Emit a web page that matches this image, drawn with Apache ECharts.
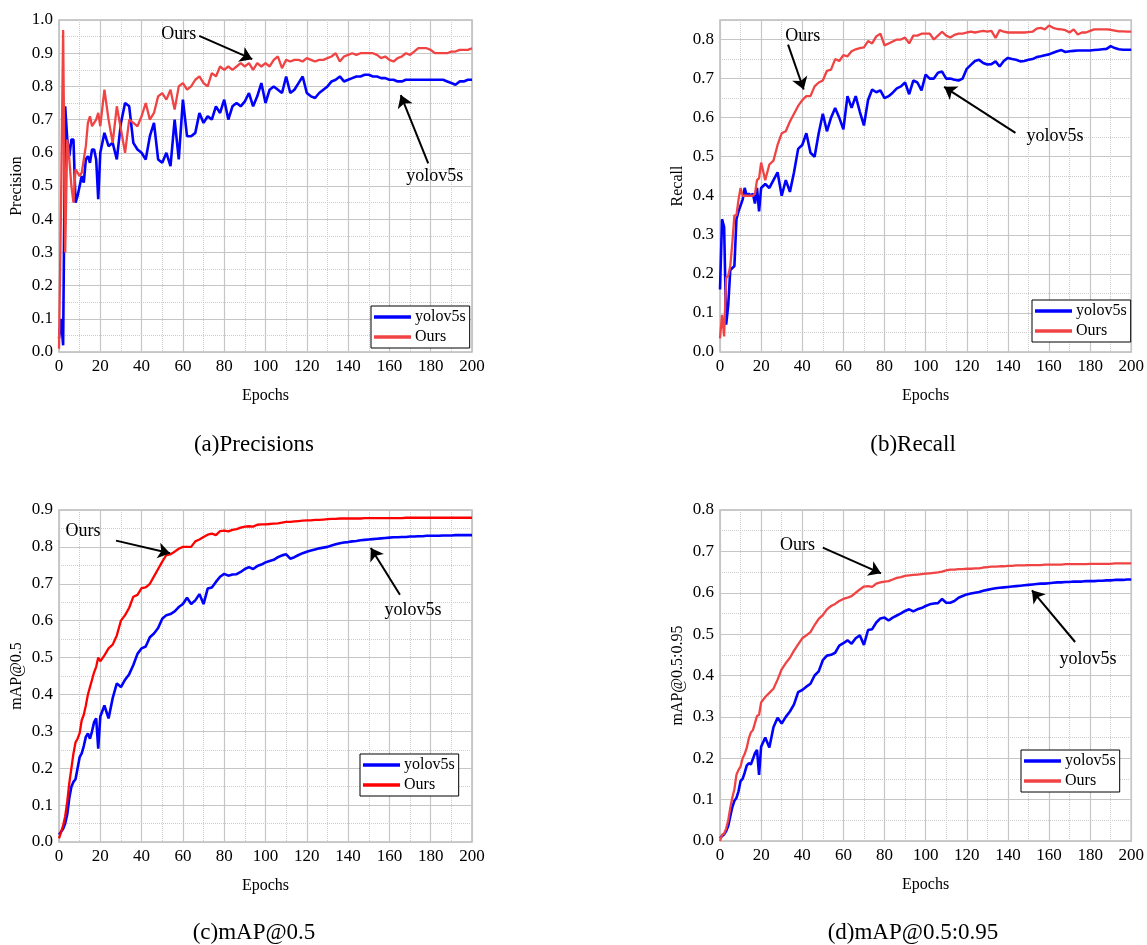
<!DOCTYPE html>
<html>
<head>
<meta charset="utf-8">
<script src="https://cdn.jsdelivr.net/npm/echarts@6.0.0/dist/echarts.min.js"></script>
<style>
  html, body { margin: 0; background: #fff; }
  #chart { width: 1147px; height: 945px; }
</style>
</head>
<body>
<div id="chart"></div>
<script>
// epochs: every epoch up to 20, then every second epoch
const epochs = [
  0,1,2,3,4,5,6,7,8,9,10,11,12,13,14,15,16,17,18,19,20,
  22,24,26,28,30,32,34,36,38,40,42,44,46,48,50,52,54,56,58,60,
  62,64,66,68,70,72,74,76,78,80,82,84,86,88,90,92,94,96,98,100,
  102,104,106,108,110,112,114,116,118,120,122,124,126,128,130,132,134,136,138,140,
  142,144,146,148,150,152,154,156,158,160,162,164,166,168,170,172,174,176,178,180,
  182,184,186,188,190,192,194,196,198,200
];

const precYolo = [
  0.04,0.10,0.02,0.74,0.64,0.59,0.64,0.64,0.45,0.47,0.50,0.53,0.51,0.58,0.59,0.57,0.61,0.61,0.58,0.46,0.60,
  0.66,0.62,0.63,0.58,0.69,0.75,0.74,0.63,0.61,0.60,0.58,0.65,0.69,0.58,0.57,0.60,0.56,0.70,0.58,0.76,
  0.65,0.65,0.66,0.72,0.69,0.71,0.70,0.74,0.72,0.76,0.70,0.74,0.75,0.74,0.755,0.78,0.74,0.77,0.81,0.75,
  0.79,0.80,0.79,0.78,0.83,0.78,0.79,0.81,0.83,0.78,0.77,0.765,0.78,0.79,0.80,0.815,0.82,0.83,0.815,0.82,
  0.825,0.83,0.83,0.835,0.835,0.83,0.83,0.825,0.825,0.82,0.82,0.815,0.815,0.82,0.82,0.82,0.82,0.82,0.82,0.82,
  0.82,0.82,0.82,0.815,0.81,0.805,0.815,0.815,0.82,0.82
];
const precOurs = [
  0.01,0.45,0.97,0.30,0.64,0.58,0.50,0.45,0.55,0.54,0.53,0.54,0.58,0.62,0.69,0.71,0.68,0.69,0.70,0.72,0.68,
  0.79,0.70,0.63,0.74,0.67,0.60,0.70,0.69,0.68,0.71,0.75,0.70,0.72,0.77,0.78,0.76,0.79,0.73,0.80,0.81,
  0.79,0.80,0.82,0.83,0.81,0.80,0.84,0.83,0.86,0.85,0.86,0.85,0.86,0.87,0.86,0.87,0.85,0.87,0.86,0.87,
  0.86,0.88,0.89,0.855,0.88,0.875,0.88,0.88,0.875,0.885,0.88,0.875,0.88,0.88,0.885,0.89,0.90,0.875,0.89,0.895,
  0.90,0.895,0.90,0.90,0.90,0.90,0.895,0.885,0.89,0.88,0.875,0.885,0.89,0.90,0.895,0.905,0.915,0.915,0.915,0.91,
  0.90,0.90,0.90,0.90,0.905,0.905,0.91,0.91,0.91,0.915
];

const recYolo = [
  0.16,0.34,0.32,0.07,0.12,0.21,0.215,0.22,0.34,0.36,0.375,0.39,0.42,0.40,0.405,0.40,0.405,0.38,0.42,0.36,0.42,
  0.43,0.42,0.44,0.46,0.40,0.44,0.41,0.46,0.52,0.53,0.56,0.51,0.50,0.56,0.61,0.565,0.60,0.625,0.60,0.57,
  0.655,0.625,0.655,0.615,0.58,0.645,0.672,0.665,0.67,0.65,0.655,0.664,0.675,0.68,0.69,0.66,0.695,0.69,0.67,0.71,
  0.70,0.70,0.715,0.718,0.70,0.70,0.697,0.695,0.70,0.725,0.735,0.745,0.748,0.74,0.736,0.737,0.744,0.731,0.745,0.753,
  0.75,0.748,0.744,0.745,0.748,0.75,0.755,0.757,0.76,0.762,0.766,0.77,0.773,0.768,0.77,0.771,0.772,0.772,0.772,0.772,
  0.773,0.774,0.775,0.776,0.783,0.778,0.775,0.774,0.774,0.774
];
const recOurs = [
  0.035,0.095,0.04,0.19,0.195,0.22,0.28,0.35,0.35,0.39,0.42,0.40,0.40,0.40,0.40,0.40,0.40,0.405,0.44,0.445,0.485,
  0.44,0.48,0.49,0.53,0.56,0.565,0.59,0.61,0.63,0.645,0.655,0.655,0.68,0.69,0.695,0.72,0.723,0.75,0.745,0.76,
  0.757,0.77,0.775,0.778,0.78,0.796,0.79,0.808,0.815,0.785,0.79,0.795,0.80,0.80,0.805,0.79,0.81,0.81,0.815,0.815,
  0.815,0.80,0.81,0.82,0.81,0.805,0.812,0.815,0.815,0.818,0.82,0.818,0.82,0.822,0.82,0.822,0.804,0.824,0.82,0.818,
  0.818,0.818,0.818,0.818,0.819,0.82,0.828,0.83,0.826,0.836,0.83,0.827,0.826,0.824,0.818,0.826,0.813,0.818,0.818,0.822,
  0.826,0.826,0.826,0.826,0.825,0.823,0.821,0.821,0.82,0.82
];

const map50Yolo = [
  0.02,0.028,0.036,0.05,0.075,0.12,0.15,0.163,0.17,0.20,0.23,0.24,0.26,0.285,0.294,0.28,0.30,0.325,0.335,0.253,0.34,
  0.37,0.335,0.39,0.43,0.42,0.44,0.455,0.48,0.51,0.525,0.53,0.555,0.565,0.58,0.605,0.615,0.618,0.625,0.637,0.645,
  0.662,0.645,0.655,0.672,0.645,0.687,0.69,0.705,0.719,0.727,0.722,0.725,0.726,0.732,0.74,0.745,0.74,0.748,0.752,0.758,
  0.762,0.765,0.772,0.777,0.78,0.768,0.772,0.778,0.783,0.787,0.79,0.793,0.796,0.798,0.80,0.804,0.807,0.81,0.812,0.813,
  0.815,0.816,0.818,0.819,0.82,0.821,0.822,0.823,0.824,0.825,0.826,0.826,0.827,0.827,0.828,0.828,0.829,0.829,0.83,0.83,
  0.83,0.83,0.831,0.831,0.831,0.832,0.832,0.832,0.832,0.832
];
const map50Ours = [
  0.01,0.027,0.045,0.07,0.11,0.16,0.20,0.24,0.27,0.28,0.295,0.33,0.345,0.37,0.40,0.42,0.44,0.46,0.475,0.50,0.49,
  0.506,0.525,0.535,0.56,0.60,0.615,0.635,0.665,0.67,0.688,0.69,0.70,0.72,0.74,0.76,0.778,0.78,0.787,0.795,0.80,
  0.80,0.80,0.815,0.82,0.827,0.833,0.836,0.832,0.843,0.844,0.842,0.846,0.848,0.852,0.855,0.856,0.855,0.86,0.861,0.861,
  0.862,0.863,0.864,0.866,0.868,0.868,0.869,0.87,0.871,0.872,0.872,0.873,0.873,0.874,0.875,0.876,0.876,0.877,0.877,0.877,
  0.877,0.877,0.877,0.878,0.878,0.878,0.878,0.878,0.878,0.878,0.878,0.878,0.878,0.879,0.879,0.879,0.879,0.879,0.879,0.879,
  0.879,0.879,0.879,0.879,0.879,0.879,0.879,0.879,0.879,0.879
];

const map5095Yolo = [
  0.007,0.012,0.016,0.024,0.036,0.06,0.082,0.097,0.104,0.12,0.145,0.15,0.165,0.182,0.188,0.185,0.198,0.212,0.22,0.16,0.228,
  0.25,0.226,0.275,0.298,0.284,0.30,0.313,0.33,0.36,0.365,0.373,0.38,0.40,0.41,0.437,0.448,0.45,0.455,0.472,0.478,
  0.485,0.477,0.49,0.497,0.474,0.51,0.512,0.528,0.538,0.54,0.533,0.54,0.545,0.55,0.556,0.56,0.555,0.56,0.563,0.568,
  0.572,0.574,0.575,0.585,0.576,0.576,0.58,0.588,0.592,0.596,0.598,0.60,0.602,0.605,0.607,0.609,0.611,0.612,0.613,0.614,
  0.615,0.616,0.617,0.618,0.619,0.62,0.621,0.622,0.622,0.623,0.624,0.625,0.625,0.626,0.626,0.627,0.627,0.627,0.628,0.628,
  0.628,0.629,0.629,0.63,0.63,0.631,0.631,0.631,0.632,0.632
];
const map5095Ours = [
  0.0,0.015,0.018,0.03,0.05,0.08,0.105,0.125,0.16,0.172,0.18,0.20,0.21,0.225,0.248,0.262,0.268,0.285,0.302,0.305,0.335,
  0.348,0.358,0.368,0.39,0.415,0.43,0.443,0.46,0.475,0.49,0.497,0.505,0.522,0.537,0.546,0.56,0.568,0.573,0.58,0.585,
  0.588,0.592,0.60,0.608,0.615,0.616,0.614,0.622,0.625,0.627,0.628,0.632,0.636,0.638,0.641,0.642,0.643,0.644,0.645,0.646,
  0.647,0.648,0.649,0.651,0.654,0.656,0.656,0.657,0.657,0.658,0.658,0.659,0.659,0.661,0.662,0.663,0.663,0.664,0.664,0.665,
  0.665,0.666,0.666,0.666,0.667,0.667,0.667,0.667,0.668,0.668,0.668,0.668,0.668,0.669,0.669,0.669,0.669,0.669,0.669,0.67,
  0.67,0.67,0.67,0.67,0.67,0.671,0.671,0.671,0.671,0.671
];

const FONT = 'Liberation Serif';
const BLUE = '#0000ff';
const RED_SOFT = '#f04343';
const RED = '#ff0000';

const panels = [
  {
    yName: 'Precision', caption: '(a)Precisions', yMax: 1.0, yolo: precYolo, ours: precOurs, red: RED_SOFT,
    grid: { left: 59, top: 20, width: 413, height: 332 }, legendPos: { left: 371, top: 306 }, capPos: [254, 445],
    notes: [
      { text: 'Ours', at: [58, 0.958], from: [67.9, 0.952], to: [93.6, 0.882] },
      { text: 'yolov5s', at: [182, 0.528], from: [178.8, 0.568], to: [165.5, 0.774] }
    ]
  },
  {
    yName: 'Recall', caption: '(b)Recall', yMax: 0.85, yolo: recYolo, ours: recOurs, red: RED_SOFT,
    grid: { left: 720, top: 20, width: 413, height: 332 }, legendPos: { left: 1032, top: 300 }, capPos: [913, 445],
    notes: [
      { text: 'Ours', at: [40.3, 0.808], from: [33.1, 0.787], to: [40.7, 0.672] },
      { text: 'yolov5s', at: [162.9, 0.552], from: [143.7, 0.561], to: [109, 0.679] }
    ]
  },
  {
    yName: 'mAP@0.5', caption: '(c)mAP@0.5', yMax: 0.9, yolo: map50Yolo, ours: map50Ours, red: RED,
    grid: { left: 59, top: 510, width: 413, height: 332 }, legendPos: { left: 360, top: 754 }, capPos: [254, 933],
    notes: [
      { text: 'Ours', at: [11.6, 0.841], from: [27.6, 0.817], to: [53.8, 0.783] },
      { text: 'yolov5s', at: [171.4, 0.627], from: [165.1, 0.67], to: [151, 0.797] }
    ]
  },
  {
    yName: 'mAP@0.5:0.95', caption: '(d)mAP@0.5:0.95', yMax: 0.8, yolo: map5095Yolo, ours: map5095Ours, red: RED_SOFT,
    grid: { left: 720, top: 510, width: 413, height: 331 }, legendPos: { left: 1021, top: 750 }, capPos: [913, 933],
    notes: [
      { text: 'Ours', at: [37.7, 0.714], from: [50, 0.709], to: [78.3, 0.647] },
      { text: 'yolov5s', at: [179, 0.44], from: [172.7, 0.481], to: [151.7, 0.606] }
    ]
  }
];

const gridLine = { color: '#c6c6c6', width: 1.2 };
const minorLine = { color: '#cdcdcd', width: 1, type: 'dotted' };
const labelStyle = { fontFamily: FONT, fontSize: 17, color: '#000' };

const option = {
  backgroundColor: '#fff',
  animation: false,
  textStyle: { fontFamily: FONT },
  grid: [], xAxis: [], yAxis: [], legend: [], series: [], graphic: []
};

panels.forEach((p, i) => {
  option.grid.push(Object.assign({ show: true, borderColor: '#bababa', borderWidth: 1.5 }, p.grid));

  option.xAxis.push({
    gridIndex: i, type: 'value', min: 0, max: 200, interval: 20,
    name: 'Epochs', nameLocation: 'middle', nameGap: 36,
    nameTextStyle: { fontFamily: FONT, fontSize: 16, color: '#000' },
    axisLine: { show: false }, axisTick: { show: false },
    axisLabel: Object.assign({ margin: 6 }, labelStyle),
    splitLine: { show: true, lineStyle: gridLine },
    minorTick: { show: false, splitNumber: 2 },
    minorSplitLine: { show: true, lineStyle: minorLine }
  });

  option.yAxis.push({
    gridIndex: i, type: 'value', min: 0, max: p.yMax, interval: 0.1,
    name: p.yName, nameLocation: 'middle', nameGap: 34,
    nameTextStyle: { fontFamily: FONT, fontSize: 16, color: '#000' },
    axisLine: { show: false }, axisTick: { show: false },
    axisLabel: Object.assign({ margin: 6, showMaxLabel: p.yMax !== 0.85, formatter: v => v.toFixed(1) }, labelStyle),
    splitLine: { show: true, lineStyle: gridLine },
    minorTick: { show: false, splitNumber: 2 },
    minorSplitLine: { show: true, lineStyle: minorLine }
  });

  option.legend.push(Object.assign({
    orient: 'vertical', icon: 'rect', itemWidth: 37, itemHeight: 3.5, itemGap: 4,
    padding: [3, 4, 3, 3], borderColor: '#000', borderWidth: 1, backgroundColor: '#fff',
    textStyle: { fontFamily: FONT, fontSize: 16, color: '#000', padding: [0, 0, 0, -1] },
    selectedMode: false,
    data: [
      { name: 'yolov5s', itemStyle: { color: BLUE } },
      { name: 'Ours', itemStyle: { color: p.red } }
    ]
  }, p.legendPos));

  option.series.push({
    name: 'yolov5s', type: 'line', xAxisIndex: i, yAxisIndex: i, symbol: 'none',
    lineStyle: { color: BLUE, width: 2.6 }, itemStyle: { color: BLUE },
    data: epochs.map((e, k) => [e, p.yolo[k]])
  });

  option.series.push({
    name: 'Ours', type: 'line', xAxisIndex: i, yAxisIndex: i, symbol: 'none',
    lineStyle: { color: p.red, width: 2.3 }, itemStyle: { color: p.red },
    data: epochs.map((e, k) => [e, p.ours[k]]),
    markLine: {
      silent: true, symbol: ['none', 'arrow'], symbolSize: 12, label: { show: false },
      lineStyle: { color: '#000', width: 2, type: 'solid' },
      emphasis: { disabled: true },
      data: p.notes.map(n => [{ coord: n.from }, { coord: n.to }])
    },
    markPoint: {
      silent: true, symbol: 'circle', symbolSize: 1,
      itemStyle: { color: 'rgba(0,0,0,0)' },
      label: { show: true, position: 'inside', formatter: '{b}', color: '#000', fontFamily: FONT, fontSize: 18 },
      data: p.notes.map(n => ({ name: n.text, coord: n.at }))
    }
  });

  option.graphic.push({
    type: 'text', x: p.capPos[0], y: p.capPos[1],
    style: {
      text: p.caption, fill: '#000', fontFamily: FONT, fontSize: 23,
      align: 'center', verticalAlign: 'middle', textAlign: 'center', textVerticalAlign: 'middle'
    }
  });
});

const chart = echarts.init(document.getElementById('chart'), null, { renderer: 'canvas' });
chart.setOption(option);
</script>
</body>
</html>
